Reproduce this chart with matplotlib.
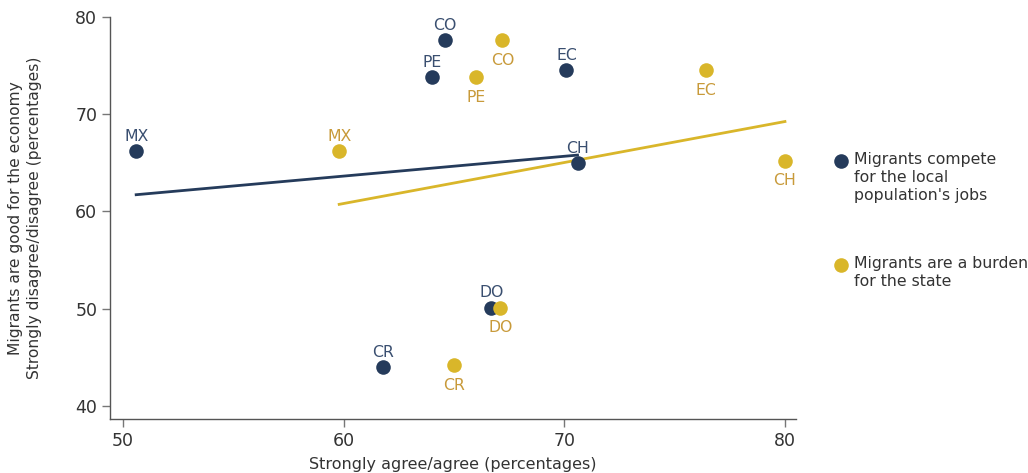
import matplotlib.pyplot as plt
import numpy as np
from matplotlib.lines import Line2D

# country codes
countries = ['MX', 'CO', 'PE', 'EC', 'CH', 'CR', 'DO']

# y: "Migrants are good for the economy" strongly disagree/disagree (%)
good_economy = [66.2, 77.6, 73.8, 74.5, 65.0, 44.0, 50.1]
# x for series 1: "Migrants compete for the local population's jobs"
compete_jobs = [50.6, 64.6, 64.0, 70.1, 70.6, 61.8, 66.7]
good_economy_b = [66.2, 77.6, 73.8, 74.5, 65.2, 44.2, 50.1]
# x for series 2: "Migrants are a burden for the state"
burden_state = [59.8, 67.2, 66.0, 76.4, 80.0, 65.0, 67.1]

navy = '#253b5b'
navy_txt = '#3a4f70'
gold = '#d9b62a'
gold_txt = '#c89a3a'

plt.rcParams['font.family'] = ['DejaVu Sans']

fig = plt.figure(figsize=(10.28, 4.73), dpi=100)
ax = fig.add_axes([0.1067, 0.1135, 0.6676, 0.8505])

# fit lines (drawn under the dots)
for xs, ys, c in [(compete_jobs, good_economy, navy), (burden_state, good_economy_b, gold)]:
    k, b = np.polyfit(xs, ys, 1)
    xx = np.array([min(xs), max(xs)])
    ax.plot(xx, k * xx + b, color=c, lw=2.0, zorder=2)

ax.scatter(compete_jobs, good_economy, s=110, color=navy, zorder=3, linewidths=0)
ax.scatter(burden_state, good_economy_b, s=110, color=gold, zorder=4, linewidths=0)

for name, x, y in zip(countries, compete_jobs, good_economy):
    ax.annotate(name, (x, y), xytext=(0, 10.5), textcoords='offset points',
                ha='center', va='center', fontsize=11.3, color=navy_txt)

for name, x, y in zip(countries, burden_state, good_economy_b):
    dy = 10.5 if name == 'MX' else -14.5
    ax.annotate(name, (x, y), xytext=(0, dy), textcoords='offset points',
                ha='center', va='center', fontsize=11.3, color=gold_txt)

ax.set_xlim(49.4, 80.5)
ax.set_ylim(38.6, 80)
ax.set_xticks([50, 60, 70, 80])
ax.set_yticks([40, 50, 60, 70, 80])
for s in ['top', 'right']:
    ax.spines[s].set_visible(False)
for s in ['left', 'bottom']:
    ax.spines[s].set_color('#555555')
    ax.spines[s].set_linewidth(1.0)
ax.tick_params(axis='both', length=6, width=1, color='#777777', labelsize=12.5,
               labelcolor='#333333', pad=3)

ax.set_xlabel('Strongly agree/agree (percentages)', fontsize=11.5, color='#333333', labelpad=5)
ax.set_ylabel('Migrants are good for the economy\nStrongly disagree/disagree (percentages)',
              fontsize=11.2, color='#333333', labelpad=24, linespacing=1.3)

# legend on the right
leg_items = [(navy, "Migrants compete\nfor the local\npopulation's jobs", 161),
             (gold, 'Migrants are a burden\nfor the state', 265)]
for c, txt, ypx in leg_items:
    yf = 1 - ypx / 473
    fig.add_artist(Line2D([840.5 / 1028], [yf], marker='o', markersize=10.5, color=c,
                          markeredgewidth=0, transform=fig.transFigure))
    fig.text(854 / 1028, yf + 0.018, txt, fontsize=11.3, color='#333333',
             va='top', ha='left', linespacing=1.25)

fig.savefig('out.png', dpi=100)
